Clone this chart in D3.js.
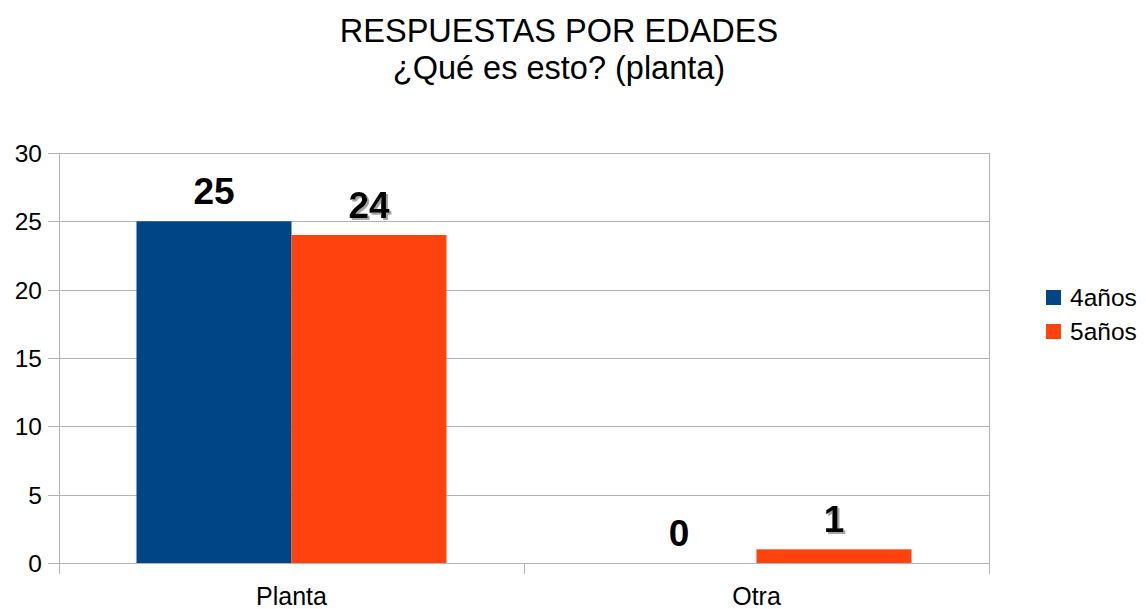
<!DOCTYPE html>
<html>
<head>
<meta charset="utf-8">
<script src="https://cdn.jsdelivr.net/npm/d3@7"></script>
<style>
  html, body { margin: 0; padding: 0; background: #fff; }
  svg { display: block; font-family: "Liberation Sans", Arial, sans-serif; }
</style>
</head>
<body>
<svg id="chart" width="1146" height="609"></svg>
<script>
// Chart data
const categories = ["Planta", "Otra"];
const seriesNames = ["4años", "5años"];
const values4 = [25, 0];
const values5 = [24, 1];
const yTicks = [0, 5, 10, 15, 20, 25, 30];
const titleLines = ["RESPUESTAS POR EDADES", "¿Qué es esto? (planta)"];
const colors = ["#004586", "#ff420e"];

const svg = d3.select("#chart");
const plot = { left: 59, right: 989, top: 153, bottom: 563 };

const x = d3.scaleBand().domain(categories).range([plot.left, plot.right]).paddingInner(0).paddingOuter(0);
const xs = d3.scaleBand().domain(seriesNames).range([0, x.bandwidth()]).paddingInner(0).paddingOuter(0.5);
const y = d3.scaleLinear().domain([0, 30]).range([plot.bottom, plot.top]);

// Drop shadow for the second series' value labels
const defs = svg.append("defs");
const f = defs.append("filter").attr("id", "shadow").attr("x", "-20%").attr("y", "-20%").attr("width", "150%").attr("height", "150%");
f.append("feDropShadow").attr("dx", 2).attr("dy", 2).attr("stdDeviation", 0.6).attr("flood-color", "#999").attr("flood-opacity", 0.9);

// Title
svg.append("g").selectAll("text").data(titleLines).join("text")
  .attr("x", 559).attr("y", (d, i) => 42 + i * 37)
  .attr("text-anchor", "middle").attr("font-size", 32.5).attr("fill", "#000")
  .text(d => d);

// Horizontal gridlines
svg.append("g").selectAll("line").data(yTicks).join("line")
  .attr("x1", plot.left - 11).attr("x2", plot.right)
  .attr("y1", d => Math.round(y(d)) + 0.5).attr("y2", d => Math.round(y(d)) + 0.5)
  .attr("stroke", "#b3b3b3").attr("stroke-width", 1);

// Y axis labels
svg.append("g").selectAll("text").data(yTicks).join("text")
  .attr("x", 42).attr("y", d => y(d) + 9)
  .attr("text-anchor", "end").attr("font-size", 24.5).attr("fill", "#000")
  .text(d => d);

// Bars
const rows = categories.map((c, i) => ({ cat: c, vals: [values4[i], values5[i]] }));
const groups = svg.append("g").selectAll("g").data(rows).join("g")
  .attr("transform", d => `translate(${x(d.cat)},0)`);
groups.selectAll("rect").data(d => d.vals.map((v, j) => ({ v, s: seriesNames[j], j })))
  .join("rect")
  .attr("x", d => xs(d.s)).attr("width", xs.bandwidth())
  .attr("y", d => y(d.v)).attr("height", d => y(0) - y(d.v))
  .attr("fill", d => colors[d.j]);

// Value labels
groups.selectAll("text").data(d => d.vals.map((v, j) => ({ v, s: seriesNames[j], j })))
  .join("text")
  .attr("x", d => xs(d.s) + xs.bandwidth() / 2)
  .attr("y", d => y(d.v) - 17)
  .attr("text-anchor", "middle").attr("font-size", 37).attr("font-weight", "bold").attr("fill", "#000")
  .attr("filter", d => d.j === 1 ? "url(#shadow)" : null)
  .text(d => d.v);

// Axis line and category ticks
const xTickPos = [plot.left, ...categories.map(c => x(c) + x.bandwidth())];
svg.append("g").selectAll("line").data(xTickPos).join("line")
  .attr("x1", d => Math.round(d) + 0.5).attr("x2", d => Math.round(d) + 0.5)
  .attr("y1", (d, i) => (i === 0 || i === xTickPos.length - 1) ? plot.top : plot.bottom)
  .attr("y2", plot.bottom + 11)
  .attr("stroke", "#b3b3b3");

// Category labels
svg.append("g").selectAll("text").data(categories).join("text")
  .attr("x", d => x(d) + x.bandwidth() / 2).attr("y", 605)
  .attr("text-anchor", "middle").attr("font-size", 25).attr("fill", "#000")
  .text(d => d);

// Legend
const legend = svg.append("g").selectAll("g").data(seriesNames).join("g")
  .attr("transform", (d, i) => `translate(1046,${290 + i * 34})`);
legend.append("rect").attr("width", 15).attr("height", 15).attr("fill", (d, i) => colors[i]);
legend.append("text").attr("x", 24).attr("y", 16).attr("font-size", 24.5).attr("fill", "#000").text(d => d);
</script>
</body>
</html>
